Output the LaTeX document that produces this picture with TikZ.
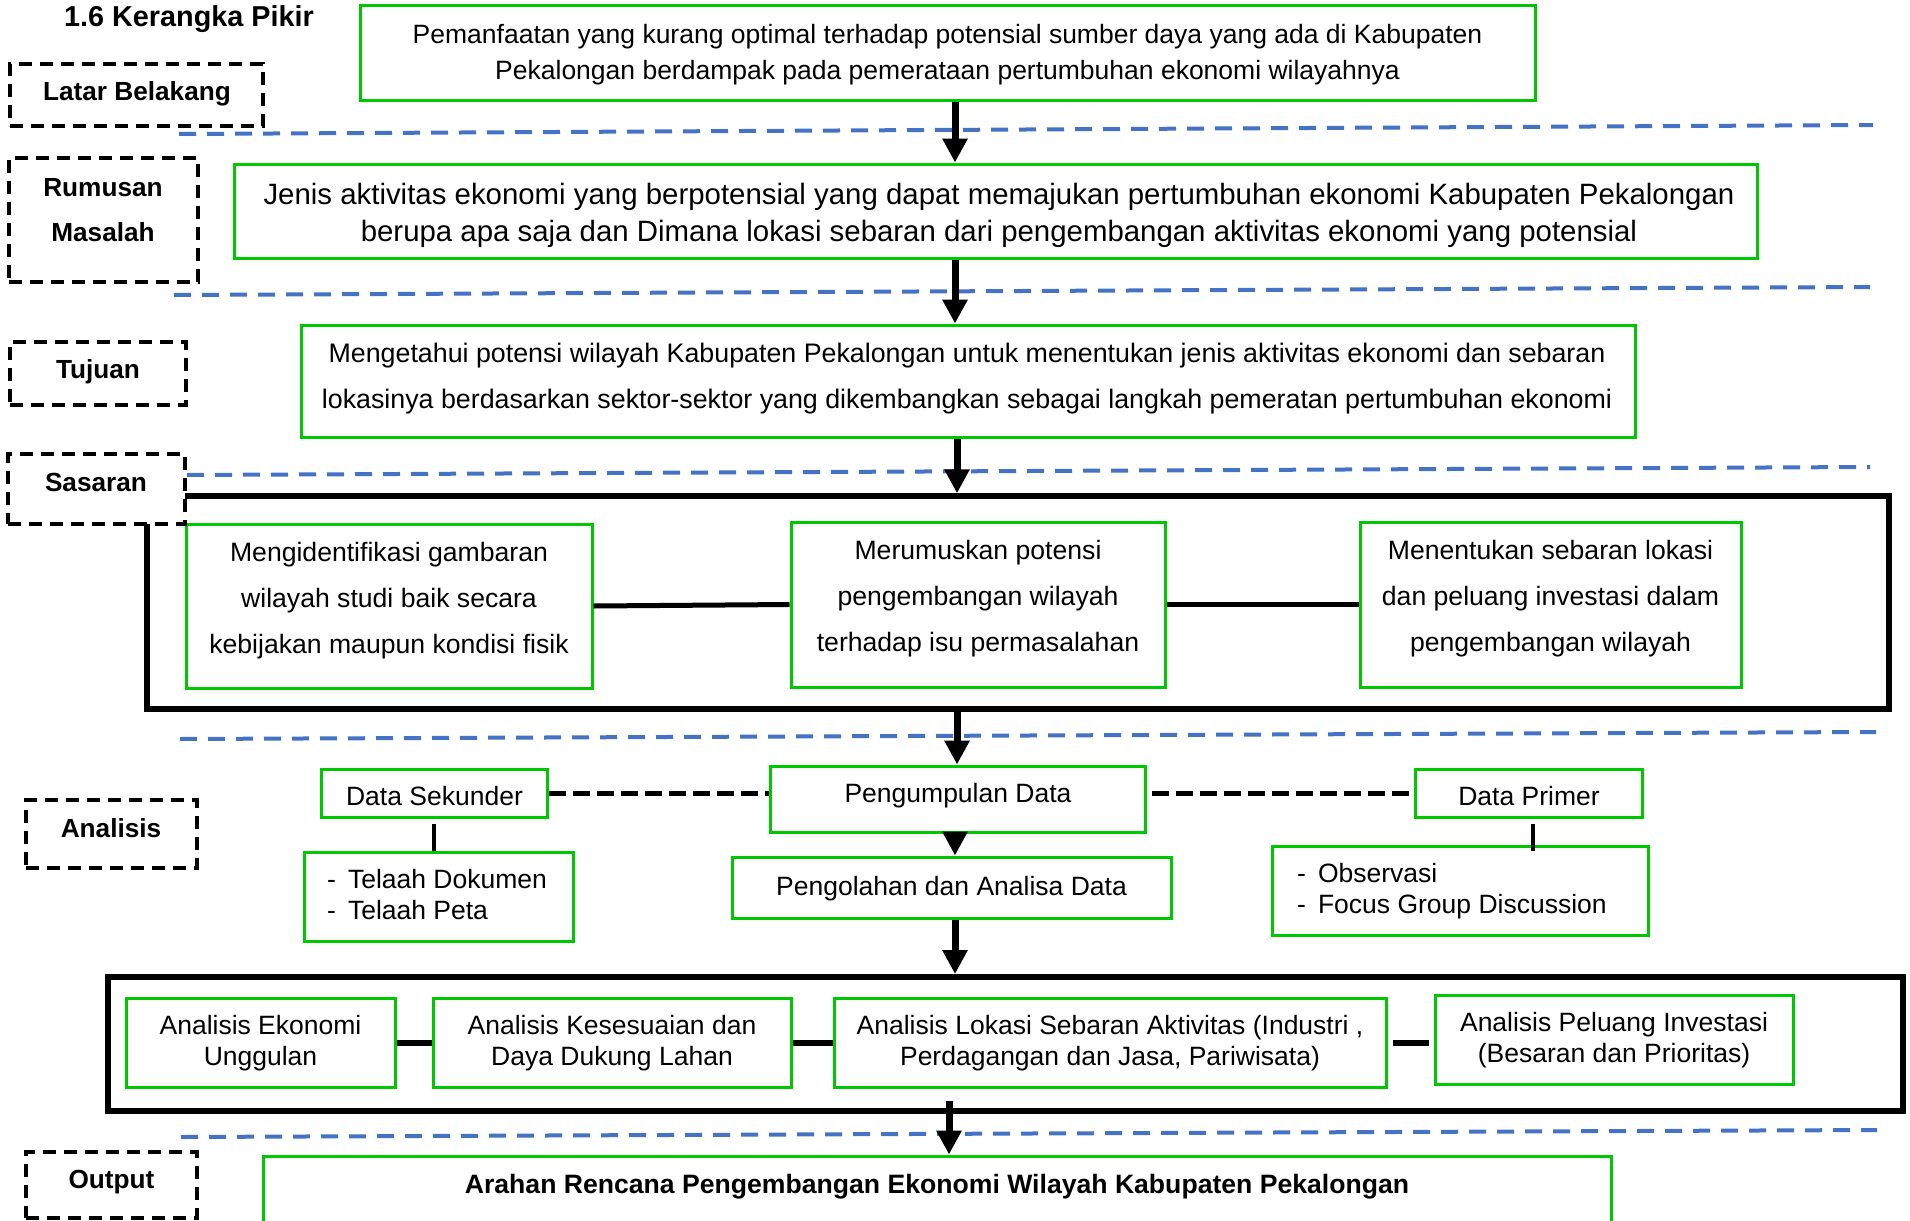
\documentclass[tikz,border=0pt]{standalone}
\usepackage{fontspec}
\setmainfont{Liberation Sans}
\usetikzlibrary{arrows.meta,fit}
\definecolor{gr}{RGB}{0,200,0}
\definecolor{bl}{RGB}{68,114,196}
\begin{document}
\begin{tikzpicture}[x=1pt,y=-1pt,
  gbox/.style={draw=gr,line width=3pt,inner sep=0pt},
  obox/.style={draw=black,line width=5.5pt,inner sep=0pt},
  lbox/.style={draw=black,fill=white,line width=4pt,dash pattern=on 13pt off 8pt,inner sep=0pt},
  sepline/.style={draw=bl,line width=4pt,dash pattern=on 17pt off 11pt},
  arr/.style={draw=black,line width=7pt,-{Triangle[length=24pt,width=24pt]}},
  conn/.style={draw=black,line width=5pt},
  dconn/.style={draw=black,line width=5pt,dash pattern=on 17pt off 7pt},
  txt/.style={inner sep=0pt,align=center,font=\fontsize{26.5}{36}\selectfont},
  lbl/.style={inner sep=0pt,align=center,font=\fontsize{26.2}{45}\selectfont\bfseries},
]
\useasboundingbox (0,0) rectangle (1910,1220);
\clip (0,0) rectangle (1910,1220);

% separators
\draw[sepline] (179,134) -- (1873,125);
\draw[sepline] (174,295) -- (1870,287);
\draw[sepline] (187,475) -- (1870,467);
\draw[sepline] (180,739) -- (1876,732);
\draw[sepline] (181,1137) -- (1877,1130);

% boxes
\node[gbox,fit={(360,6) (1535,101)}] (bg) {};
\node[gbox,fit={(234,164) (1757,258)}] (rm) {};
\node[gbox,fit={(301,325) (1635,437)}] (tj) {};
\node[obox,fit={(147,496) (1889,709)}] (so) {};
\node[gbox,fit={(186,524) (592,688)}] (sa) {};
\node[gbox,fit={(791,522) (1165,687)}] (sb) {};
\node[gbox,fit={(1360,522) (1741,687)}] (sc) {};
\node[gbox,fit={(770,766) (1145,832)}] (pd) {};
\node[gbox,fit={(321,769) (547,817)}] (ds) {};
\node[gbox,fit={(1415,769) (1642,817)}] (dp) {};
\node[gbox,fit={(304,852) (573,941)}] (tl) {};
\node[gbox,fit={(1272,846) (1648,935)}] (ob) {};
\node[gbox,fit={(732,857) (1171,918)}] (po) {};
\node[obox,line width=6pt,fit={(108,977) (1903,1111)}] (ao) {};
\node[gbox,fit={(126,998) (395,1087)}] (e1) {};
\node[gbox,fit={(433,998) (791,1087)}] (e2) {};
\node[gbox,fit={(834,998) (1386,1087)}] (e3) {};
\node[gbox,fit={(1435,995) (1793,1084)}] (e4) {};
\node[gbox,fit={(263,1156) (1611,1300)}] (out) {};

% label boxes
\node[lbox,fit={(10,64) (263,126)}] (lLB) {};
\node[lbox,fit={(9,158) (198,282)}] (lRM) {};
\node[lbox,fit={(10,342) (186,405)}] (lTJ) {};
\node[lbox,fit={(8,454) (185,524)}] (lSS) {};
\node[lbox,fit={(26,800) (197,868)}] (lAN) {};
\node[lbox,fit={(26,1152) (197,1218)}] (lOU) {};

% connectors
\coordinate (ax1) at (955,0);
\coordinate (ax2) at (957,0);
\coordinate (ax3) at (949,0);
\coordinate (ax4) at (1533,0);
\draw[arr] (bg.south -| ax1) -- (rm.north -| ax1);
\draw[arr] (rm.south -| ax1) -- (tj.north -| ax1);
\draw[arr] (tj.south -| ax2) -- (so.north -| ax2);
\draw[arr] (so.south -| ax2) -- (pd.north -| ax2);
\draw[arr] (pd.south -| ax1) -- (po.north -| ax1);
\draw[arr] (po.south -| ax1) -- (ao.north -| ax1);
\draw[arr,shorten <=-13pt] (ao.south -| ax3) -- (out.north -| ax3);

\draw[conn] (sa.east) -- (sb.west);
\draw[conn] (sb.east) -- (sc.west);

\draw[dconn] (ds.east) -- (ds.east -| pd.west);
\draw[dconn,shorten <=5pt,shorten >=4pt] (dp.west -| pd.east) -- (dp.west);
\draw[conn,line width=4pt,shorten <=5pt] (ds.south) -- (ds.south |- tl.north);
\draw[conn,line width=4pt,shorten <=5pt,shorten >=-6pt] (dp.south -| ax4) -- (ob.north -| ax4);

\draw[conn,line width=6pt] (e1.east) -- (e2.west);
\draw[conn,line width=6pt] (e2.east) -- (e3.west);
\draw[conn,line width=6pt,shorten <=5pt,shorten >=5pt] (e3.east) -- (e3.east -| e4.west);

% texts
\node[lbl,font=\fontsize{28.8}{34}\selectfont\bfseries] (title) at (189,19.5) {1.6 Kerangka Pikir};
\node[txt] (tbg) at (947.5,55) {Pemanfaatan yang kurang optimal terhadap potensial sumber daya yang ada di Kabupaten\\Pekalongan berdampak pada pemerataan pertumbuhan ekonomi wilayahnya};
\node[txt,font=\fontsize{29.4}{37}\selectfont] (trm) at (999,215.5) {Jenis aktivitas ekonomi yang berpotensial yang dapat memajukan pertumbuhan ekonomi Kabupaten Pekalongan\\berupa apa saja dan Dimana lokasi sebaran dari pengembangan aktivitas ekonomi yang potensial};
\node[txt,font=\fontsize{26.8}{46}\selectfont] (ttj) at (967,378.5) {Mengetahui potensi wilayah Kabupaten Pekalongan untuk menentukan jenis aktivitas ekonomi dan sebaran\\lokasinya berdasarkan sektor-sektor yang dikembangkan sebagai langkah pemeratan pertumbuhan ekonomi};
\node[txt,font=\fontsize{26.6}{46}\selectfont] (tsa) at (389,600.5) {Mengidentifikasi gambaran\\wilayah studi baik secara\\kebijakan maupun kondisi fisik};
\node[txt,font=\fontsize{26.6}{46}\selectfont] (tsb) at (978,598.5) {Merumuskan potensi\\pengembangan wilayah\\terhadap isu permasalahan};
\node[txt,font=\fontsize{26.6}{46}\selectfont] (tsc) at (1550.5,598.5) {Menentukan sebaran lokasi\\dan peluang investasi dalam\\pengembangan wilayah};
\node[txt] (tpd) at (958,795.5) {Pengumpulan Data};
\node[txt] (tds) at (434.5,796.5) {Data Sekunder};
\node[txt] (tdp) at (1529,796.5) {Data Primer};
\node[txt,align=left,anchor=west,font=\fontsize{26.5}{31}\selectfont] (ttl) at (327,895) {-\hspace{12pt}Telaah Dokumen\\-\hspace{12pt}Telaah Peta};
\node[txt,align=left,anchor=west,font=\fontsize{26.5}{31}\selectfont] (tob) at (1297,891) {-\hspace{12pt}Observasi\\-\hspace{12pt}Focus Group Discussion};
\node[txt] (tpo) at (951.5,888.5) {Pengolahan dan Analisa Data};
\node[txt,font=\fontsize{26.5}{31}\selectfont] (te1) at (260.5,1043.5) {Analisis Ekonomi\\Unggulan};
\node[txt,font=\fontsize{26.5}{31}\selectfont] (te2) at (612,1043.5) {Analisis Kesesuaian dan\\Daya Dukung Lahan};
\node[txt,font=\fontsize{26.5}{31}\selectfont] (te3) at (1110,1043.5) {Analisis Lokasi Sebaran Aktivitas (Industri ,\\Perdagangan dan Jasa, Pariwisata)};
\node[txt,font=\fontsize{26.5}{31}\selectfont] (te4) at (1614,1040.5) {Analisis Peluang Investasi\\(Besaran dan Prioritas)};
\node[lbl,font=\fontsize{26.6}{32}\selectfont\bfseries] (tout) at (937,1186.5) {Arahan Rencana Pengembangan Ekonomi Wilayah Kabupaten Pekalongan};

\node[lbl] (tLB) at (137,94) {Latar Belakang};
\node[lbl] (tRM) at (103,210) {Rumusan\\Masalah};
\node[lbl] (tTJ) at (98,372) {Tujuan};
\node[lbl] (tSS) at (96,482) {Sasaran};
\node[lbl] (tAN) at (111,828) {Analisis};
\node[lbl] (tOU) at (111.5,1182.5) {Output};
\end{tikzpicture}
\end{document}
